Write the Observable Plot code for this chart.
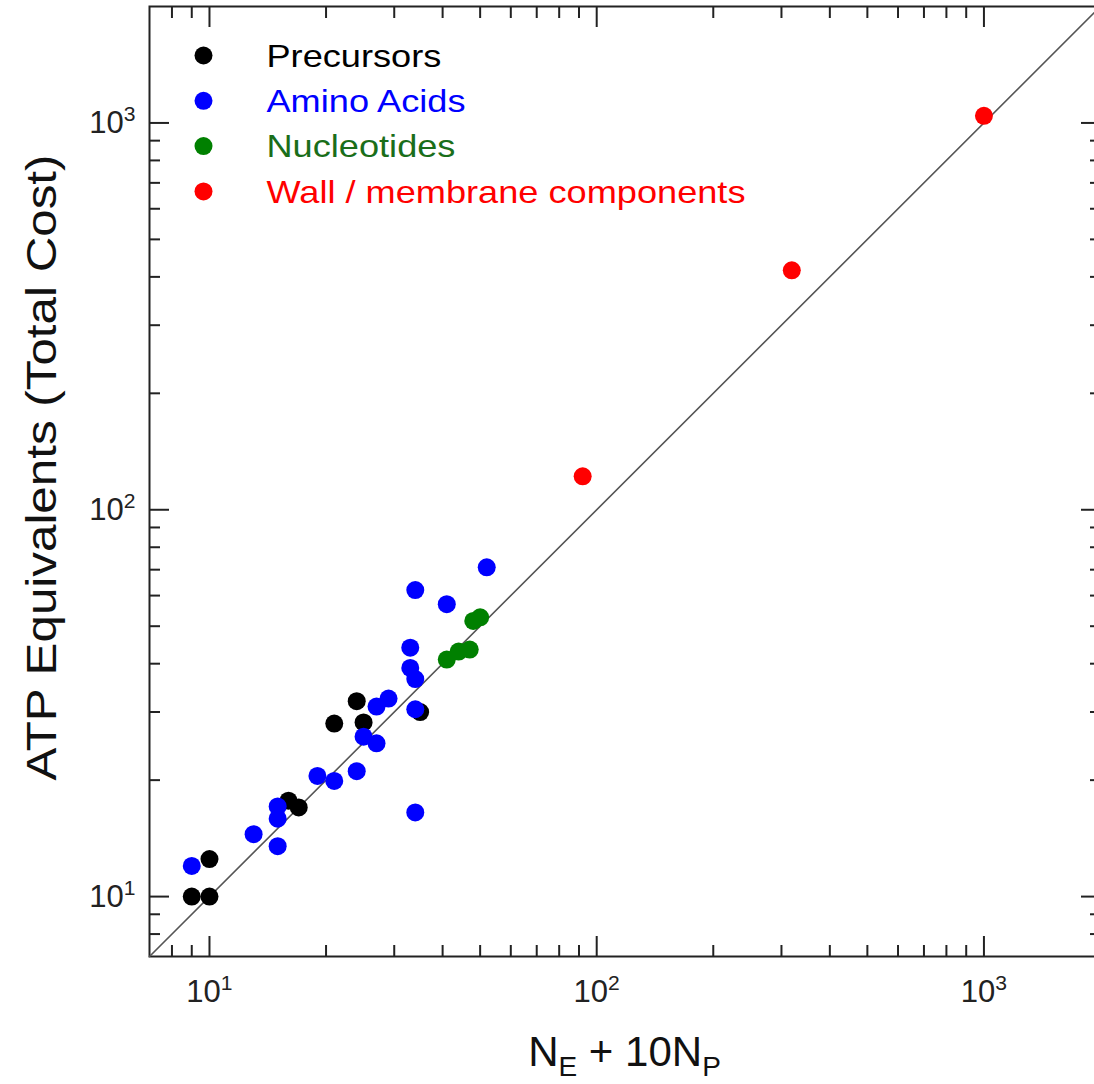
<!DOCTYPE html>
<html><head><meta charset="utf-8">
<script src="https://cdn.jsdelivr.net/npm/d3@7"></script>
<script src="https://cdn.jsdelivr.net/npm/@observablehq/plot@0.6"></script>
<style>
html,body{margin:0;padding:0;background:#fff;overflow:hidden;}
#chart{width:1094px;height:1084px;overflow:hidden;position:relative;}
#chart svg{max-width:none !important;}
#chart g[aria-label$="tick label"] text{font-size:31px;}
</style></head><body><div id="chart"></div>
<script>
// ---- data ----
const categories = ["Precursors", "Amino Acids", "Nucleotides", "Wall / membrane components"];
const dotColors = ["#000000", "#0000ff", "#008000", "#ff0000"];
const textColors = ["#000000", "#0000ff", "#1a6e1a", "#ff0000"];

const precursorsX = [9, 10, 10, 16, 17, 21, 24, 25, 35];
const precursorsY = [10, 10, 12.5, 17.7, 17, 28, 32, 28.2, 30];

const aminoX = [9, 13, 15, 15, 15, 19, 21, 24, 25, 27, 27, 29, 33, 33, 34, 34, 34, 34, 41, 52];
const aminoY = [12, 14.5, 13.5, 15.9, 17.1, 20.5, 19.9, 21.1, 25.9, 24.9, 31, 32.5, 44, 39, 36.5, 62, 30.5, 16.5, 57, 71];

const nucleotidesX = [41, 44, 47, 48, 50];
const nucleotidesY = [41, 43, 43.5, 51.6, 52.7];

const wallX = [92, 319, 1000];
const wallY = [122, 416, 1043];

const axisDomain = [7, 2000];
const diagonal = [7, 2000];
const majorTicks = [10, 100, 1000];
const majorLabels = ["10¹", "10²", "10³"];
const minorTicks = [8, 9, 20, 30, 40, 50, 60, 70, 80, 90, 200, 300, 400, 500, 600, 700, 800, 900];

const xTitle = [["N", false], ["E", true], [" + 10N", false], ["P", true]];
const yTitle = "ATP Equivalents (Total Cost)";

// ---- build table ----
const seriesX = [precursorsX, aminoX, nucleotidesX, wallX];
const seriesY = [precursorsY, aminoY, nucleotidesY, wallY];
const points = [];
categories.forEach((c, k) => seriesX[k].forEach((x, i) => points.push({category: c, x, y: seriesY[k][i]})));

const font = "'Liberation Sans', Arial, Helvetica, sans-serif";
const lab = d => majorLabels[majorTicks.indexOf(d)];
const none = () => "";
const tk = {strokeWidth: 2, stroke: "#222", label: null};

const plot = Plot.plot({
  width: 1112, height: 1084,
  marginLeft: 149, marginRight: 12, marginTop: 6, marginBottom: 128,
  x: {type: "log", domain: axisDomain},
  y: {type: "log", domain: axisDomain},
  color: {domain: categories, range: dotColors},
  style: {fontFamily: font, background: "white", color: "#222"},
  marks: [
    Plot.axisX(minorTicks, {anchor: "bottom", tickSize: -11, tickFormat: none, ...tk}),
    Plot.axisX(majorTicks, {anchor: "bottom", tickSize: -20, tickPadding: 43, tickFormat: lab, fontSize: 31, ...tk}),
    Plot.axisX(minorTicks, {anchor: "top", tickSize: -11, tickFormat: none, ...tk}),
    Plot.axisX(majorTicks, {anchor: "top", tickSize: -20, tickFormat: none, ...tk}),
    Plot.axisY(minorTicks, {anchor: "left", tickSize: -11, tickFormat: none, ...tk}),
    Plot.axisY(majorTicks, {anchor: "left", tickSize: -20, tickPadding: 34, tickFormat: lab, fontSize: 31, ...tk}),
    Plot.axisY(minorTicks, {anchor: "right", tickSize: -11, tickFormat: none, ...tk}),
    Plot.axisY(majorTicks, {anchor: "right", tickSize: -20, tickFormat: none, ...tk}),
    Plot.frame({stroke: "#222", strokeWidth: 2}),
    Plot.line(diagonal, {x: d => d, y: d => d, stroke: "#555", strokeWidth: 1.6}),
    Plot.dot(points, {x: "x", y: "y", fill: "category", r: 9}),
    ...categories.map((c, i) => Plot.dot([c], {frameAnchor: "top-left", dx: 54, dy: 49 + 45.3 * i, r: 9, fill: dotColors[i]})),
    ...categories.map((c, i) => Plot.text([c], {frameAnchor: "top-left", dx: 117, dy: 50 + 45.3 * i, text: d => d, fill: textColors[i], fontSize: 32, textAnchor: "start", lineAnchor: "middle"})),
    Plot.text([yTitle], {frameAnchor: "left", dx: -107, dy: -14, rotate: -90, text: d => d, fontSize: 42, fill: "#111", lineAnchor: "middle", textAnchor: "middle"})
  ]
});

document.getElementById("chart").appendChild(plot);
const svg = d3.select(plot);

// superscript exponents in the tick labels
const supMap = {"¹": "1", "²": "2", "³": "3"};
svg.selectAll('g[aria-label$="tick label"] text').each(function() {
  const s = this.textContent;
  if (!s) return;
  const base = s.slice(0, -1), exp = supMap[s.slice(-1)];
  const el = d3.select(this);
  el.text(null);
  el.append("tspan").text(base);
  el.append("tspan").attr("font-size", "0.68em").attr("dy", "-0.55em").text(exp);
});

// x-axis title with subscripts
const xs = plot.scale("x").range;
const t = svg.append("text")
  .attr("x", (xs[0] + xs[1]) / 2).attr("y", 1066)
  .attr("text-anchor", "middle").attr("font-size", 42).attr("fill", "#111")
  .attr("font-family", font);
xTitle.forEach(([s, sub], i) => {
  const prevSub = i > 0 && xTitle[i - 1][1];
  const sp = t.append("tspan").text(s);
  if (sub) sp.attr("font-size", 28).attr("dy", 10);
  else if (prevSub) sp.attr("dy", -10);
});

// legend text slightly wider, y title longer, as in the reference
svg.selectAll("text").filter(function() { return categories.includes(this.textContent); })
  .each(function() {
    const w = this.getComputedTextLength();
    this.setAttribute("textLength", w * 1.13);
    this.setAttribute("lengthAdjust", "spacingAndGlyphs");
  });
svg.selectAll("text").filter(function() { return this.textContent === yTitle; })
  .attr("textLength", 626).attr("lengthAdjust", "spacingAndGlyphs");
</script></body></html>
